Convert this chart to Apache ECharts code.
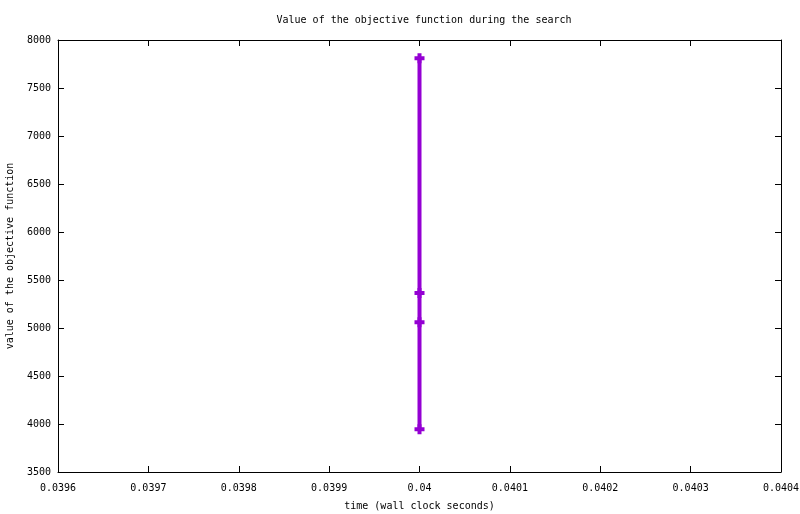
<!DOCTYPE html>
<html>
<head>
<meta charset="utf-8">
<script src="https://cdn.jsdelivr.net/npm/echarts@6/dist/echarts.min.js"></script>
<style>
html, body { margin: 0; padding: 0; background: #fff; }
#chartDiv { width: 800px; height: 514px; }
</style>
</head>
<body>
<div id="chartDiv"></div>
<script>
// data
var timeValues = [0.04, 0.04, 0.04, 0.04];
var objValues = [7810, 5365, 5060, 3945];
var xTicks = { min: 0.0396, max: 0.0404, step: 0.0001 };
var yTicks = { min: 3500, max: 8000, step: 500 };

var font = 'DejaVu Sans Mono';
var plusSymbol = 'path://M3,0 H7 V3 H10 V7 H7 V10 H3 V7 H0 V3 H3 Z';

var points = [];
for (var i = 0; i < timeValues.length; i++) {
	points.push([timeValues[i], objValues[i]]);
}

var axisLine = { show: true, lineStyle: { color: '#000', width: 1 } };
var tick = { show: true, inside: true, length: 6, lineStyle: { color: '#000' } };

var chart = echarts.init(document.getElementById('chartDiv'));
var option = {
	animation: false,
	backgroundColor: '#fff',
	title: {
		text: 'Value of the objective function during the search',
		left: 419,
		textAlign: 'center',
		top: 10,
		textStyle: { color: '#000', fontFamily: font, fontSize: 10, fontWeight: 'normal' }
	},
	grid: { left: 58, right: 19, top: 40, bottom: 42, containLabel: false, outerBoundsMode: 'none' },
	xAxis: [{
		type: 'value',
		position: 'bottom',
		min: xTicks.min,
		max: xTicks.max,
		interval: xTicks.step,
		name: 'time (wall clock seconds)',
		nameLocation: 'middle',
		nameGap: 29,
		nameTextStyle: { color: '#000', fontFamily: font, fontSize: 10 },
		axisLine: axisLine,
		axisTick: tick,
		splitLine: { show: false },
		axisLabel: {
			color: '#000', fontFamily: font, fontSize: 10, margin: 11,
			formatter: function(v) { return String(+v.toFixed(4)); }
		}
	}, {
		type: 'value',
		position: 'top',
		min: xTicks.min,
		max: xTicks.max,
		interval: xTicks.step,
		axisLine: axisLine,
		axisTick: tick,
		splitLine: { show: false },
		axisLabel: { show: false }
	}],
	yAxis: [{
		type: 'value',
		position: 'left',
		min: yTicks.min,
		max: yTicks.max,
		interval: yTicks.step,
		name: 'value of the objective function',
		nameLocation: 'middle',
		nameGap: 43,
		nameTextStyle: { color: '#000', fontFamily: font, fontSize: 10 },
		axisLine: axisLine,
		axisTick: tick,
		splitLine: { show: false },
		axisLabel: {
			color: '#000', fontFamily: font, fontSize: 10, margin: 7,
			formatter: function(v) { return String(v); }
		}
	}, {
		type: 'value',
		position: 'right',
		min: yTicks.min,
		max: yTicks.max,
		interval: yTicks.step,
		axisLine: axisLine,
		axisTick: tick,
		splitLine: { show: false },
		axisLabel: { show: false }
	}],
	series: [{
		name: 'objective',
		type: 'line',
		data: points,
		xAxisIndex: 0,
		yAxisIndex: 0,
		symbol: plusSymbol,
		symbolSize: 10,
		showAllSymbol: true,
		lineStyle: { color: '#9400d3', width: 4 },
		itemStyle: { color: '#9400d3', borderWidth: 0 }
	}]
};
chart.setOption(option);
</script>
</body>
</html>
